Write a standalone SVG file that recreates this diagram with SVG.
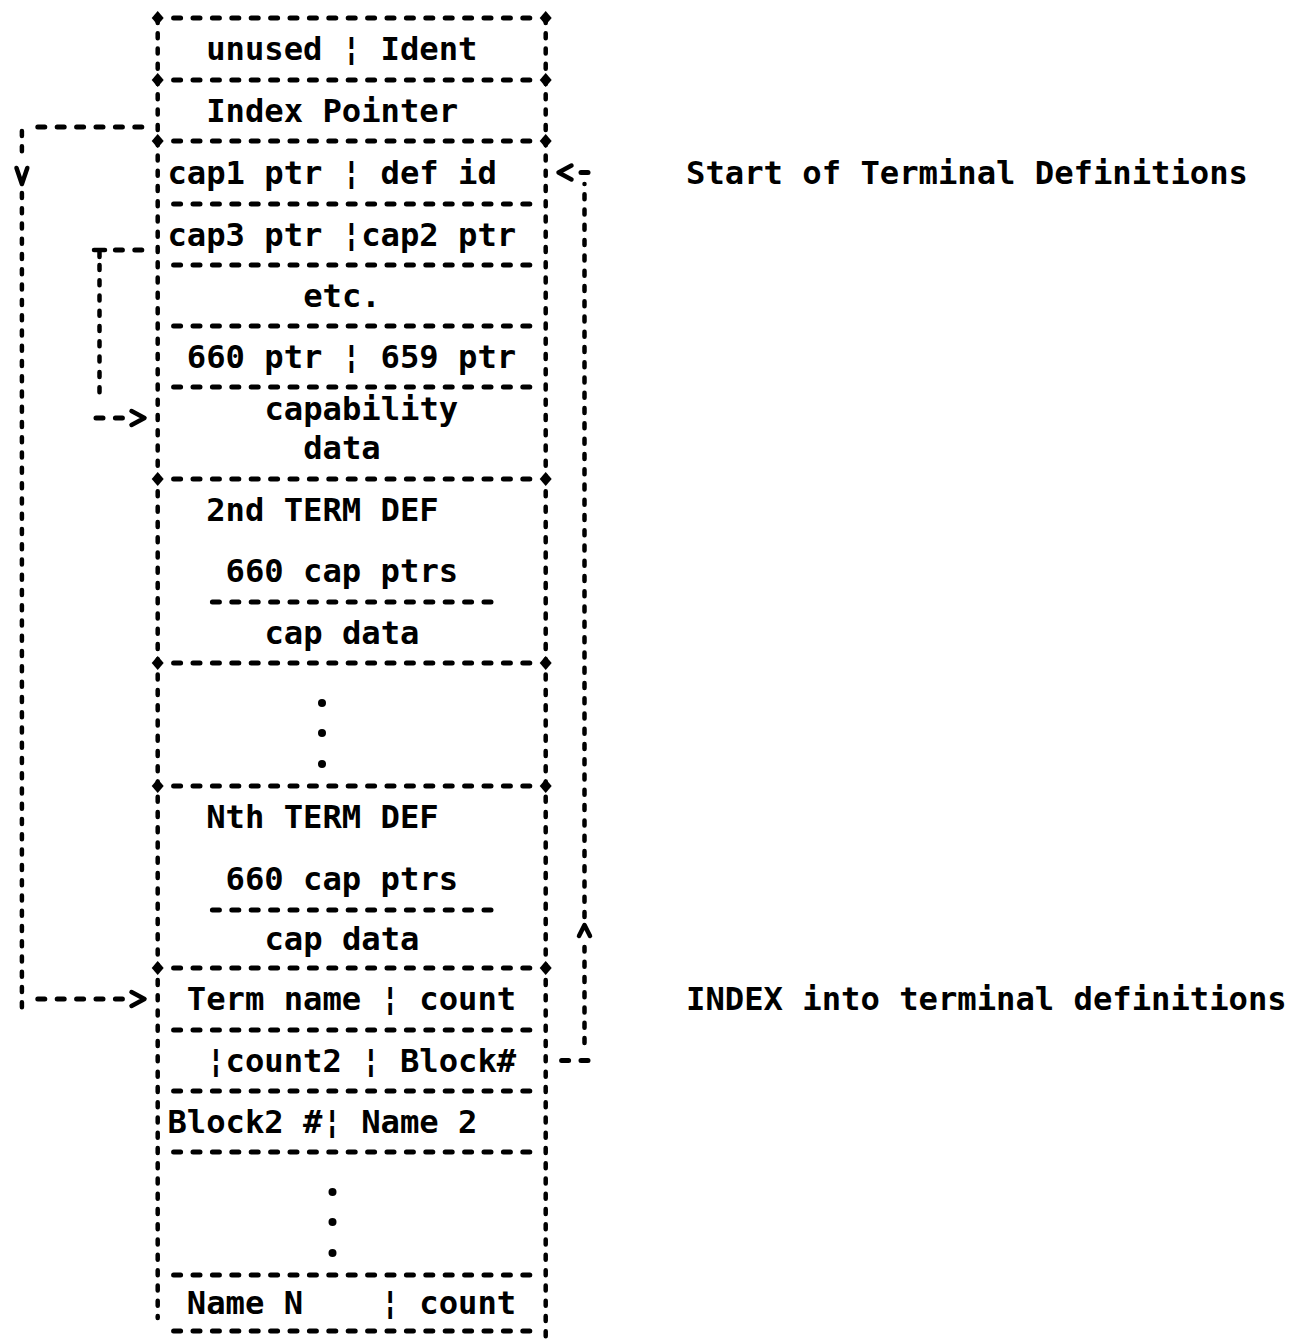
<svg xmlns="http://www.w3.org/2000/svg" width="1289" height="1340" viewBox="0 0 1289 1340">
<style>
.t{font-family:"DejaVu Sans Mono","Liberation Mono",monospace;font-weight:bold;font-size:32.2px;fill:#000;white-space:pre}
.h{stroke:#000;stroke-width:5;stroke-linecap:round;stroke-dasharray:7 12.4;fill:none}
.v{stroke:#000;stroke-width:4.5;stroke-linecap:round;stroke-dasharray:5 10.27;fill:none}
.ah{stroke:#000;stroke-width:4.5;stroke-linecap:round;stroke-linejoin:round;fill:none}
.dm{fill:#000}
</style>
<defs>
<polygon id="corner" class="dm" points="0,-7 6,0 0,7 -6,0"/>
</defs>
<rect width="1289" height="1340" fill="#fff"/>
<g id="frame">
<path class="v" d="M157.7,18V1318M545.7,18V1340"/>
<path class="h" d="M173.6,18H529.8M173.6,80H529.8M173.6,141H529.8M173.6,479H529.8M173.6,663H529.8M173.6,786H529.8M173.6,968H529.8"/>
<path class="h" d="M173.6,204H529.8M173.6,265H529.8M173.6,326H529.8M173.6,387H529.8M173.6,1030H529.8M173.6,1091H529.8M173.6,1152H529.8M173.6,1275H529.8M173.6,1331H529.8"/>
<path class="h" d="M212.4,602H491M212.4,910H491"/>
<use href="#corner" x="157.7" y="18"/><use href="#corner" x="545.7" y="18"/>
<use href="#corner" x="157.7" y="80"/><use href="#corner" x="545.7" y="80"/>
<use href="#corner" x="157.7" y="141"/><use href="#corner" x="545.7" y="141"/>
<use href="#corner" x="157.7" y="479"/><use href="#corner" x="545.7" y="479"/>
<use href="#corner" x="157.7" y="663"/><use href="#corner" x="545.7" y="663"/>
<use href="#corner" x="157.7" y="786"/><use href="#corner" x="545.7" y="786"/>
<use href="#corner" x="157.7" y="968"/><use href="#corner" x="545.7" y="968"/>
</g>
<g id="header-ident"><text class="t" x="206.2" y="60" xml:space="preserve">unused ¦ Ident</text></g>
<g id="index-pointer"><text class="t" x="206.2" y="121.5">Index Pointer</text></g>
<g id="term-def-1">
<text class="t" x="167.4" y="183.5" xml:space="preserve">cap1 ptr ¦ def id</text>
<text class="t" x="167.4" y="245.5" xml:space="preserve">cap3 ptr ¦cap2 ptr</text>
<text class="t" x="303.2" y="306.5">etc.</text>
<text class="t" x="186.8" y="367.5" xml:space="preserve">660 ptr ¦ 659 ptr</text>
<text class="t"><tspan x="264.4" y="420">capability</tspan><tspan x="303.2" y="458.5">data</tspan></text>
</g>
<g id="term-def-2">
<text class="t" x="206.2" y="521" xml:space="preserve">2nd TERM DEF</text>
<text class="t" x="225.6" y="582" xml:space="preserve">660 cap ptrs</text>
<text class="t" x="264.4" y="643.5" xml:space="preserve">cap data</text>
</g>
<g id="ellipsis-1" class="dm">
<circle cx="322" cy="703" r="4"/>
<circle cx="322" cy="733" r="4"/>
<circle cx="322" cy="764" r="4"/>
</g>
<g id="term-def-n">
<text class="t" x="206.2" y="828" xml:space="preserve">Nth TERM DEF</text>
<text class="t" x="225.6" y="890" xml:space="preserve">660 cap ptrs</text>
<text class="t" x="264.4" y="950" xml:space="preserve">cap data</text>
</g>
<g id="index">
<text class="t" x="186.8" y="1010" xml:space="preserve">Term name ¦ count</text>
<text class="t" x="206.2" y="1071.5" xml:space="preserve">¦count2 ¦ Block#</text>
<text class="t" x="167.4" y="1132.5" xml:space="preserve">Block2 #¦ Name 2</text>
<g id="ellipsis-2" class="dm">
<circle cx="332.5" cy="1192" r="4"/>
<circle cx="332.5" cy="1222" r="4"/>
<circle cx="332.5" cy="1253" r="4"/>
</g>
<text class="t" x="186.8" y="1314" xml:space="preserve">Name N    ¦ count</text>
</g>
<g id="label-start"><text class="t" x="686" y="183.5" xml:space="preserve">Start of Terminal Definitions</text></g>
<g id="label-index"><text class="t" x="686" y="1010" xml:space="preserve">INDEX into terminal definitions</text></g>
<g id="connectors">
<g id="conn-index-pointer">
<path class="h" d="M37.8,127H141.8"/>
<path class="v" d="M21.9,131V158M21.9,193V1011"/>
<polyline class="ah" points="16.5,168 21.9,184 27.3,168"/>
<path class="h" d="M37.8,999H122.4"/>
<polyline class="ah" points="131.5,992 144.5,999 131.5,1006"/>
</g>
<g id="conn-cap-data">
<path class="h" d="M115.4,250H141.8"/>
<path class="ah" d="M94,250H105M99.5,250V257"/>
<path class="v" d="M99.5,265V398"/>
<path class="h" d="M96,418H122.4"/>
<polyline class="ah" points="131.5,411 144.5,418 131.5,425"/>
</g>
<g id="conn-start-defs">
<path class="h" d="M561.6,1060.5H588"/>
<path class="v" d="M584.5,1043V947M584.5,917V184"/>
<polyline class="ah" points="579,936 584.5,925 590,936"/>
<path class="h" d="M581,172.5H588"/>
<polyline class="ah" points="571.5,165.5 558.5,172.5 571.5,179.5"/>
</g>
</g>
</svg>
